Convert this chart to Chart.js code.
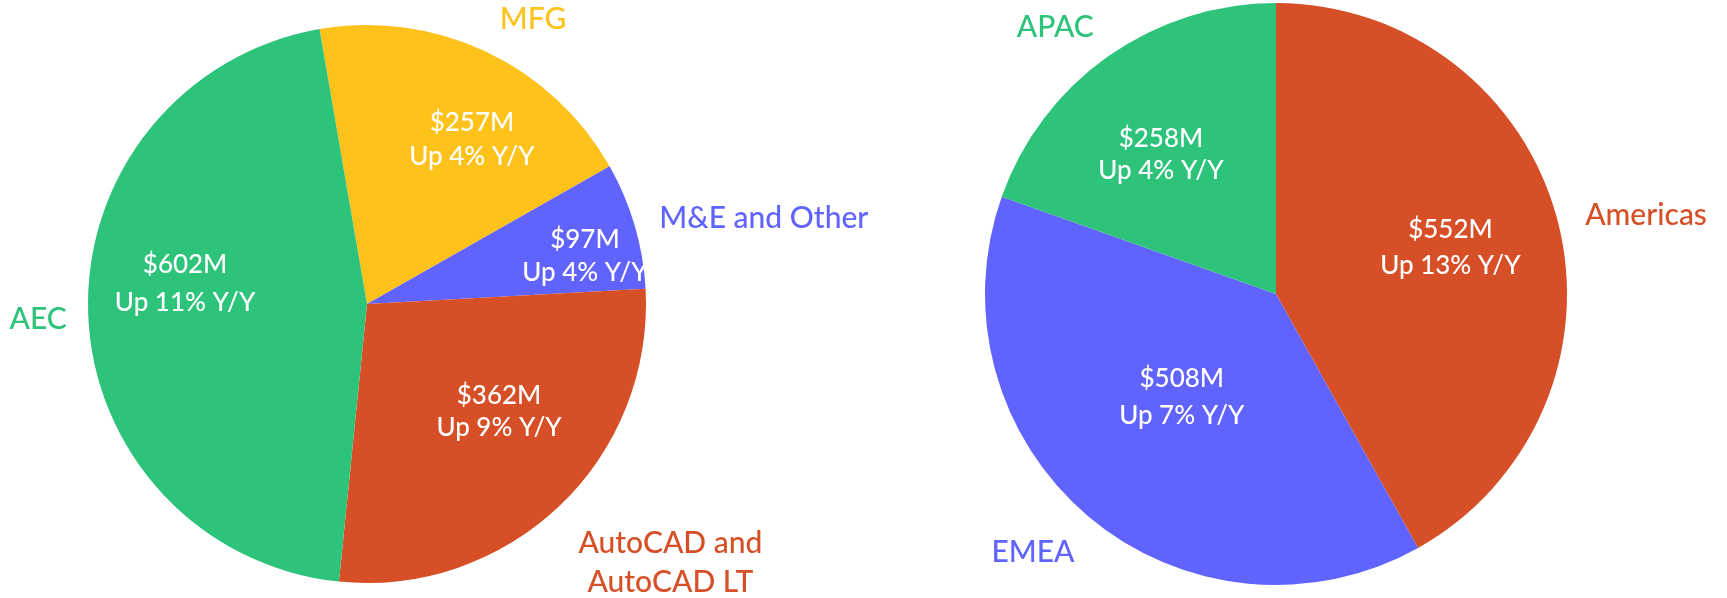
<!DOCTYPE html>
<html>
<head>
<meta charset="utf-8">
<script src="https://cdn.jsdelivr.net/npm/chart.js@4"></script>
<style>
  html, body { margin: 0; padding: 0; background: #fff; }
  body { width: 1727px; height: 598px; position: relative; overflow: hidden; }
  .box { position: absolute; top: 0; height: 598px; }
</style>
</head>
<body>
<div class="box" style="left:0;width:920px"><canvas id="c-seg"></canvas></div>
<div class="box" style="left:863px;width:864px"><canvas id="c-geo"></canvas></div>
<script>
// ingresos por segmento de producto (M$) y crecimiento interanual (%)
const segNames   = ['MFG', 'M&E and Other', ['AutoCAD and', 'AutoCAD LT'], 'AEC'];
const segRevenue = [257, 97, 362, 602];
const segGrowth  = [4, 4, 9, 11];
const segColors  = ['#fec21b', '#6163ff', '#d64f26', '#2dc37a'];

// ingresos por región
const geoNames   = ['Americas', 'EMEA', 'APAC'];
const geoRevenue = [552, 508, 258];
const geoGrowth  = [13, 7, 4];
const geoColors  = ['#d64f26', '#6163ff', '#2dc37a'];

const FONT = 'Lato, "Noto Sans", sans-serif';

/* Posición de las etiquetas: ángulo (grados desde arriba, horario) y fracción del radio */
const segPlace = {
    inner: [[32.5, 0.70, 34], [77.5, 0.80, 33], [129.1, 0.61, 32], [276.3, 0.656, 38]],
    outer: [[30.3, 1.18], [77.8, 1.455], [130.5, 1.43], [267.4, 1.18]],
};
const geoPlace = {
    inner: [[75.2, 0.62, 36], [222.4, 0.48, 37], [320.4, 0.62, 32]],
    outer: [[78, 1.30], [223.2, 1.22], [320.4, 1.19]],
};

function polar(arc, a, f) {
    const rad = a * Math.PI / 180;
    return [arc.x + Math.sin(rad) * arc.outerRadius * f, arc.y - Math.cos(rad) * arc.outerRadius * f];
}

const sliceLabels = {
    id: 'sliceLabels',
    afterDatasetsDraw(chart, args, opts) {
        const ctx = chart.ctx;
        const ds = chart.data.datasets[0];
        const meta = chart.getDatasetMeta(0);
        ctx.save();
        ctx.textAlign = 'center';
        ctx.textBaseline = 'middle';
        meta.data.forEach((arc, i) => {
            // texto interior: importe y crecimiento
            const [ia, ifr, gap] = opts.place.inner[i];
            const [x, y] = polar(arc, ia, ifr);
            ctx.fillStyle = '#fff';
            ctx.font = '500 26px ' + FONT;
            ctx.fillText(`$${ds.data[i]}M`, x, y - gap / 2);
            ctx.fillText(`Up ${opts.growth[i]}% Y/Y`, x, y + gap / 2);

            // nombre del segmento fuera del círculo
            const [oa, ofr] = opts.place.outer[i];
            const [ox, oy] = polar(arc, oa, ofr);
            const lines = [].concat(chart.data.labels[i]);
            ctx.fillStyle = ds.backgroundColor[i];
            ctx.font = '500 30px ' + FONT;
            lines.forEach((t, k) => ctx.fillText(t, ox, oy + (k - (lines.length - 1) / 2) * 39));
        });
        ctx.restore();
    },
};

function makePie(id, labels, values, colors, growth, place, rotation, padding) {
    return new Chart(document.getElementById(id), {
        type: 'pie',
        data: {
            labels,
            datasets: [{ data: values, backgroundColor: colors, borderWidth: 0 }],
        },
        options: {
            responsive         : true,
            maintainAspectRatio: false,
            animation          : false,
            rotation,
            layout : { padding },
            plugins: {
                legend     : { display: false },
                tooltip    : { enabled: false },
                sliceLabels: { growth, place },
            },
        },
        plugins: [sliceLabels],
    });
}

makePie('c-seg', segNames, segRevenue, segColors, segGrowth, segPlace, -9.8,
        { left: 88, right: 274, top: 25, bottom: 15 });
makePie('c-geo', geoNames, geoRevenue, geoColors, geoGrowth, geoPlace, 0,
        { left: 122, right: 160, top: 3, bottom: 13 });
</script>
</body>
</html>
